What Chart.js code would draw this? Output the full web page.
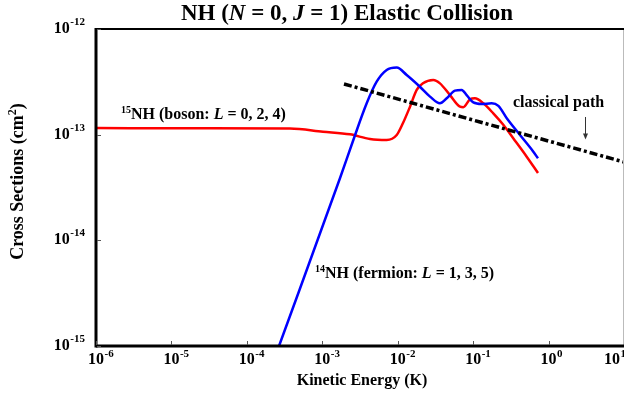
<!DOCTYPE html>
<html><head><meta charset="utf-8">
<script src="https://cdn.jsdelivr.net/npm/chart.js@4"></script>
<style>html,body{margin:0;padding:0;background:#fff}#wrap{width:624px;height:397px}</style>
</head><body><div id="wrap"><canvas id="c" width="624" height="397"></canvas></div>
<script>
// ---- data (kinetic energy in K, cross section in cm^2) ----
const bosonE = [1e-6, 2.39e-5, 3.73e-4, 1.02e-3, 2.33e-3, 4.29e-3, 7.14e-3, 9.70e-3, 1.175e-2, 1.456e-2, 1.786e-2, 2.16e-2, 2.96e-2, 3.63e-2, 4.93e-2, 6.70e-2, 7.40e-2, 9.08e-2, 0.1057, 0.1365, 0.185, 0.251, 0.340, 0.513, 0.724];
const bosonSigma = [1.156e-13, 1.148e-13, 1.143e-13, 1.067e-13, 1.007e-13, 9.10e-14, 8.91e-14, 9.93e-14, 1.288e-13, 1.841e-13, 2.65e-13, 3.06e-13, 3.29e-13, 3.06e-13, 2.37e-13, 1.84e-13, 1.82e-13, 2.16e-13, 2.21e-13, 1.98e-13, 1.59e-13, 1.24e-13, 9.25e-14, 6.19e-14, 4.34e-14];
const fermionE = [2.67e-4, 1.72e-3, 2.58e-3, 3.88e-3, 5.26e-3, 7.14e-3, 9.70e-3, 1.315e-2, 1.97e-2, 2.68e-2, 3.63e-2, 4.46e-2, 5.74e-2, 7.05e-2, 8.20e-2, 0.1005, 0.130, 0.176, 0.216, 0.279, 0.418, 0.628, 0.724];
const fermionSigma = [1e-15, 3.89e-14, 8.91e-14, 1.98e-13, 3.17e-13, 4.09e-13, 4.31e-13, 3.67e-13, 2.84e-13, 2.29e-13, 1.98e-13, 2.21e-13, 2.61e-13, 2.65e-13, 2.37e-13, 2.02e-13, 1.95e-13, 1.98e-13, 1.87e-13, 1.43e-13, 9.93e-14, 6.90e-14, 5.97e-14];
const classicalE = [1.94e-3, 0.1233, 10];
const classicalSigma = [3.02e-13, 1.318e-13, 5.51e-14];
const xTickValues = [1e-6, 1e-5, 1e-4, 1e-3, 1e-2, 1e-1, 1, 10];
const xTickExponents = ['-6', '-5', '-4', '-3', '-2', '-1', '0', '1'];
const yTickValues = [1e-15, 1e-14, 1e-13, 1e-12];
const yTickExponents = ['-15', '-14', '-13', '-12'];
const arrowE = 3.04;
const arrowSigma = [1.47e-13, 9.0e-14];

const pts = (xs, ys) => xs.map((x, i) => ({x: x, y: ys[i]}));
const FAM = '"Liberation Serif", "Times New Roman", serif';
const B = s => `bold ${s}px ${FAM}`;
const BI = s => `italic bold ${s}px ${FAM}`;

function runs(ctx, list, x, y, align) {
  let w = 0;
  list.forEach(r => { ctx.font = r[1]; w += ctx.measureText(r[0]).width; });
  let cx = align === 'center' ? x - w / 2 : (align === 'right' ? x - w : x);
  ctx.textAlign = 'left';
  ctx.textBaseline = 'alphabetic';
  list.forEach(r => {
    ctx.font = r[1];
    ctx.fillText(r[0], cx, y + (r[2] || 0));
    cx += ctx.measureText(r[0]).width;
  });
}

const decor = {
  id: 'decor',
  afterDraw(chart) {
    const ctx = chart.ctx, a = chart.chartArea;
    const xs = chart.scales.x, ys = chart.scales.y;
    ctx.save();
    ctx.fillStyle = '#000';
    // frame
    ctx.strokeStyle = '#bbb'; ctx.lineWidth = 1;
    ctx.beginPath(); ctx.moveTo(a.right - 0.5, a.top); ctx.lineTo(a.right - 0.5, a.bottom); ctx.stroke();
    ctx.strokeStyle = '#000';
    ctx.lineWidth = 2;
    ctx.beginPath(); ctx.moveTo(a.left, a.top); ctx.lineTo(a.right, a.top); ctx.stroke();
    ctx.lineWidth = 3;
    ctx.beginPath(); ctx.moveTo(a.left, a.top - 1); ctx.lineTo(a.left, a.bottom + 1.5); ctx.stroke();
    ctx.beginPath(); ctx.moveTo(a.left, a.bottom); ctx.lineTo(a.right, a.bottom); ctx.stroke();
    // ticks
    ctx.strokeStyle = '#555'; ctx.lineWidth = 1;
    xTickValues.forEach(v => {
      const px = Math.round(xs.getPixelForValue(v)) + 0.5;
      ctx.beginPath(); ctx.moveTo(px, a.bottom - 1); ctx.lineTo(px, a.bottom - 5); ctx.stroke();
    });
    yTickValues.forEach(v => {
      const py = Math.round(ys.getPixelForValue(v)) + 0.5;
      ctx.beginPath(); ctx.moveTo(a.left + 1, py); ctx.lineTo(a.left + 5, py); ctx.stroke();
    });
    // x tick labels
    xTickValues.forEach((v, i) => {
      let px = xs.getPixelForValue(v);
      ctx.font = B(16);
      const w = ctx.measureText('10').width;
      if (px + w / 2 > chart.width - 4) px = chart.width - 4 - w / 2;
      ctx.textAlign = 'center'; ctx.textBaseline = 'alphabetic';
      ctx.fillText('10', px, 364);
      ctx.font = B(11); ctx.textAlign = 'left';
      ctx.fillText(xTickExponents[i], px + w / 2 + 0.5, 357);
    });
    // y tick labels
    yTickValues.forEach((v, i) => {
      const py = ys.getPixelForValue(v);
      ctx.font = B(11);
      const we = ctx.measureText(yTickExponents[i]).width;
      ctx.textAlign = 'right'; ctx.textBaseline = 'alphabetic';
      ctx.fillText(yTickExponents[i], 85, py - 4);
      ctx.font = B(16);
      ctx.fillText('10', 85 - we - 0.5, py + 4);
    });
    // title
    runs(ctx, [['NH (', B(23)], ['N', BI(23)], [' = 0, ', B(23)], ['J', BI(23)], [' = 1) Elastic Collision', B(23)]], 347, 20, 'center');
    // axis titles
    runs(ctx, [['Kinetic Energy (K)', B(16)]], 362, 385, 'center');
    ctx.save();
    ctx.translate(23, 181.5);
    ctx.rotate(-Math.PI / 2);
    runs(ctx, [['Cross Sections (cm', B(18)], ['2', B(12), -7], [')', B(18)]], 0, 0, 'center');
    ctx.restore();
    // annotations
    runs(ctx, [['15', B(10), -6], ['NH (boson: ', B(16)], ['L', BI(16)], [' = 0, 2, 4)', B(16)]], 121, 119, 'left');
    runs(ctx, [['14', B(10), -6], ['NH (fermion: ', B(16)], ['L', BI(16)], [' = 1, 3, 5)', B(16)]], 315, 278, 'left');
    runs(ctx, [['classical path', B(16)]], 513, 106.5, 'left');
    // arrow
    const ax = Math.round(xs.getPixelForValue(arrowE)) + 0.5;
    const ay1 = ys.getPixelForValue(arrowSigma[0]);
    const ay2 = ys.getPixelForValue(arrowSigma[1]);
    ctx.strokeStyle = '#333'; ctx.fillStyle = '#333'; ctx.lineWidth = 1;
    ctx.beginPath(); ctx.moveTo(ax, ay1); ctx.lineTo(ax, ay2 - 4); ctx.stroke();
    ctx.beginPath(); ctx.moveTo(ax - 2.5, ay2 - 6); ctx.lineTo(ax + 2.5, ay2 - 6); ctx.lineTo(ax, ay2); ctx.closePath(); ctx.fill();
    ctx.restore();
  }
};

new Chart(document.getElementById('c'), {
  type: 'line',
  data: {
    datasets: [
      { label: 'classical path', data: pts(classicalE, classicalSigma), borderColor: '#000', borderWidth: 3.5,
        borderDash: [8, 3, 3, 3], pointRadius: 0, tension: 0, fill: false },
      { label: '14NH (fermion)', data: pts(fermionE, fermionSigma), borderColor: '#0000ff', borderWidth: 2.5,
        pointRadius: 0, cubicInterpolationMode: 'monotone', fill: false },
      { label: '15NH (boson)', data: pts(bosonE, bosonSigma), borderColor: '#ff0000', borderWidth: 2.5,
        pointRadius: 0, cubicInterpolationMode: 'monotone', fill: false }
    ]
  },
  options: {
    responsive: false, animation: false, devicePixelRatio: 1,
    layout: { padding: { left: 96, top: 29, right: 0, bottom: 51 } },
    plugins: { legend: { display: false }, tooltip: { enabled: false }, title: { display: false } },
    scales: {
      x: { type: 'logarithmic', min: 1e-6, max: 10, display: false },
      y: { type: 'logarithmic', min: 1e-15, max: 1e-12, display: false }
    }
  },
  plugins: [decor]
});
</script>
</body></html>
